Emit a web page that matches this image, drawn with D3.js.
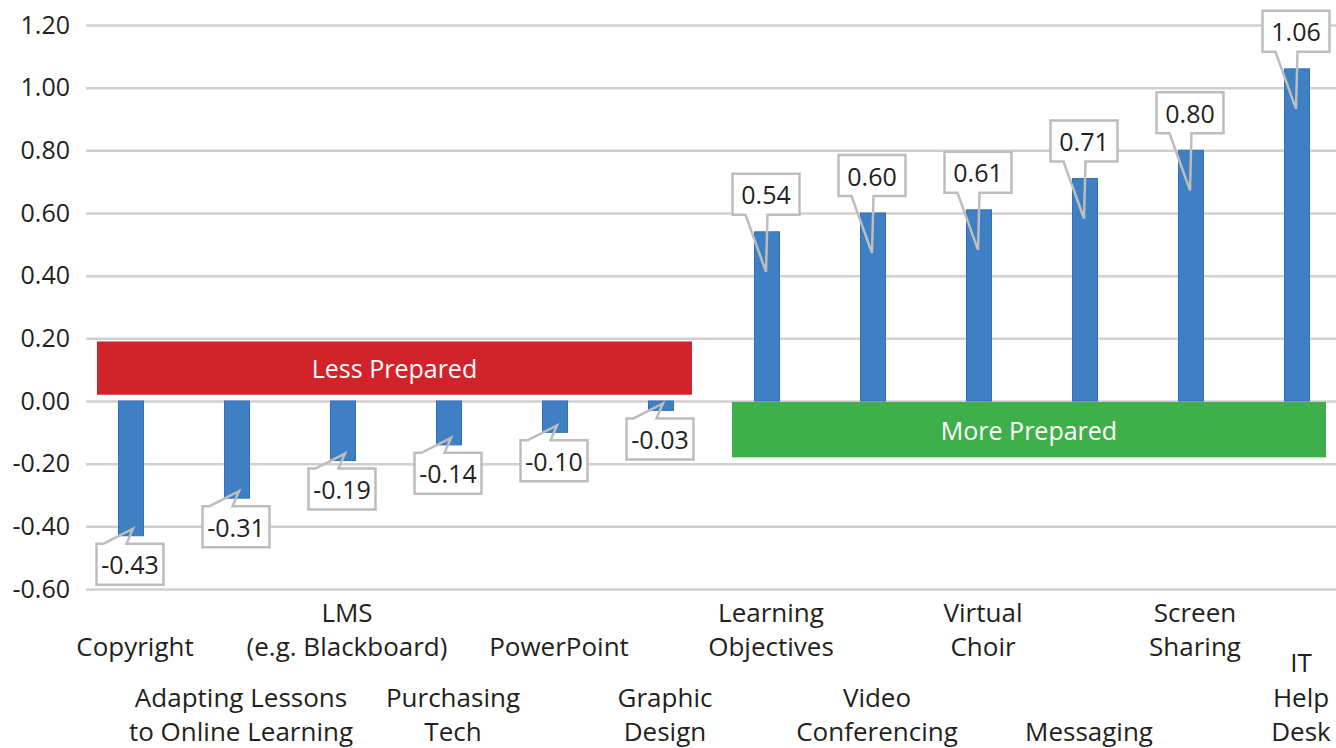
<!DOCTYPE html>
<html>
<head>
<meta charset="utf-8">
<script src="https://cdn.jsdelivr.net/npm/d3@7"></script>
<style>
  html, body { margin: 0; padding: 0; background: #ffffff; }
  svg { display: block; }
  text { font-family: "Open Sans", "Noto Sans", sans-serif; fill: #231F20; }
</style>
</head>
<body>
<svg id="chart" width="1336" height="748"></svg>
<script>
// Preparedness scores by topic
const categories = [
  "Copyright",
  "Adapting Lessons\nto Online Learning",
  "LMS\n(e.g. Blackboard)",
  "Purchasing\nTech",
  "PowerPoint",
  "Graphic\nDesign",
  "Learning\nObjectives",
  "Video\nConferencing",
  "Virtual\nChoir",
  "Messaging",
  "Screen\nSharing",
  "IT\nHelp\nDesk"
];
const values = [-0.43, -0.31, -0.19, -0.14, -0.10, -0.03, 0.54, 0.60, 0.61, 0.71, 0.80, 1.06];
const tickValues = [-0.6, -0.4, -0.2, 0, 0.2, 0.4, 0.6, 0.8, 1.0, 1.2];
const tickLabels = ["-0.60", "-0.40", "-0.20", "0.00", "0.20", "0.40", "0.60", "0.80", "1.00", "1.20"];
const groupLabels = ["Less Prepared", "More Prepared"];

const W = 1336, H = 748;
const svg = d3.select("#chart");

const x = d3.scaleBand().domain(categories).range([78, 1350]).padding(0);
const y = d3.scaleLinear().domain([-0.6, 1.2]).range([589, 25]);
const cx = c => x(c) + x.bandwidth() / 2;
const barW = 25;

// Gridlines
svg.append("g")
  .attr("transform", "translate(86,0)")
  .call(d3.axisRight(y).tickValues(tickValues).tickSize(W - 86).tickFormat(""))
  .call(g => g.select(".domain").remove())
  .call(g => g.selectAll(".tick line").attr("stroke", "#D0D0D0").attr("stroke-width", 2.5));

// Y axis labels
svg.append("g")
  .attr("transform", "translate(70,0)")
  .call(d3.axisLeft(y).tickValues(tickValues).tickSize(0).tickPadding(0)
    .tickFormat((d, i) => tickLabels[i]))
  .call(g => g.select(".domain").remove())
  .call(g => g.selectAll(".tick text")
    .attr("font-size", 25)
    .attr("font-family", "'Open Sans', sans-serif")
    .attr("fill", "#231F20"));

// Group annotation bands
const lessX0 = x(categories[0]) + 19, lessX1 = x(categories[6]) - 22;
svg.append("rect")
  .attr("x", lessX0).attr("width", lessX1 - lessX0)
  .attr("y", y(0.19)).attr("height", y(0.02) - y(0.19))
  .attr("fill", "#D2232A");
svg.append("text")
  .attr("x", (lessX0 + lessX1) / 2).attr("y", (y(0.19) + y(0.02)) / 2)
  .attr("text-anchor", "middle").attr("dominant-baseline", "central")
  .attr("font-size", 25).style("fill", "#ffffff")
  .text(groupLabels[0]);

const moreX0 = x(categories[6]) + 18, moreX1 = x.range()[1] - 24;
svg.append("rect")
  .attr("x", moreX0).attr("width", moreX1 - moreX0)
  .attr("y", y(-0.003)).attr("height", y(-0.18) - y(-0.003))
  .attr("fill", "#3FAF4B");
svg.append("text")
  .attr("x", (moreX0 + moreX1) / 2).attr("y", (y(-0.003) + y(-0.18)) / 2)
  .attr("text-anchor", "middle").attr("dominant-baseline", "central")
  .attr("font-size", 25).style("fill", "#ffffff")
  .text(groupLabels[1]);

// Bars
svg.append("g").selectAll("rect")
  .data(categories)
  .join("rect")
  .attr("x", c => cx(c) - barW / 2)
  .attr("width", barW)
  .attr("y", (c, i) => Math.min(y(values[i]), y(0)))
  .attr("height", (c, i) => Math.abs(y(values[i]) - y(0)))
  .attr("fill", "#3F7FC4")
  .attr("stroke", "#2E6FB8")
  .attr("stroke-width", 1);

// Value callouts
const boxW = 67, boxH = 41;
const callouts = svg.append("g");
categories.forEach((c, i) => {
  const v = values[i];
  const xc = cx(c);
  const yv = y(v);
  let bx0, by0, p0, p1, tx, ty;
  if (v >= 0) {
    bx0 = xc - boxW / 2 - 1;
    by0 = yv - 17 - boxH;
    p0 = bx0 + 13; p1 = bx0 + 35;
    tx = xc - 1; ty = yv + 40;
  } else {
    bx0 = xc - boxW / 2 - 1;
    by0 = yv + 8;
    p0 = bx0 + 7; p1 = bx0 + 30;
    tx = xc + 2; ty = yv - 7;
  }
  const g = callouts.append("g");
  g.append("rect")
    .attr("x", bx0).attr("y", by0).attr("width", boxW).attr("height", boxH)
    .attr("fill", "#ffffff");
  const bx1 = bx0 + boxW, by1 = by0 + boxH;
  const d = (v >= 0)
    ? `M${bx0},${by0}H${bx1}V${by1}H${p1}L${tx},${ty}L${p0},${by1}H${bx0}Z`
    : `M${bx0},${by1}H${bx1}V${by0}H${p1}L${tx},${ty}L${p0},${by0}H${bx0}Z`;
  g.append("path")
    .attr("d", d)
    .attr("fill", "none")
    .attr("stroke", "#BDBDBD")
    .attr("stroke-width", 2.5)
    .attr("stroke-linejoin", "miter");
  g.append("text")
    .attr("x", bx0 + boxW / 2).attr("y", by0 + boxH / 2)
    .attr("text-anchor", "middle").attr("dominant-baseline", "central")
    .attr("font-size", 25)
    .text(v.toFixed(2));
});

// Category labels, staggered in two rows
const lineH = 34.5;
const catG = svg.append("g");
categories.forEach((c, i) => {
  const lines = c.split("\n");
  const baseY = (i % 2 === 0) ? 656 : 741;
  const t = catG.append("text")
    .attr("text-anchor", "middle")
    .attr("font-size", 26);
  lines.forEach((ln, k) => {
    t.append("tspan")
      .attr("x", cx(c) + 4)
      .attr("y", baseY - (lines.length - 1 - k) * lineH)
      .text(ln);
  });
});
</script>
</body>
</html>
